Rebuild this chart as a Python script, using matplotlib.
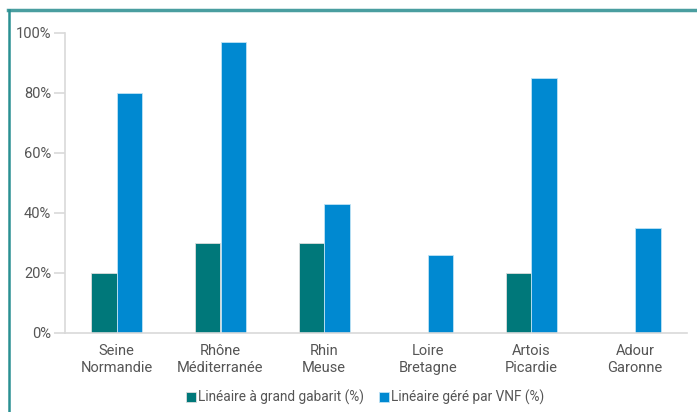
import numpy as np
import matplotlib.pyplot as plt
from matplotlib.lines import Line2D

plt.rcParams['font.family'] = ['Roboto', 'DejaVu Sans']

bassins = ['Seine\nNormandie', 'Rhône\nMéditerranée', 'Rhin\nMeuse',
           'Loire\nBretagne', 'Artois\nPicardie', 'Adour\nGaronne']
grand_gabarit = [20, 30, 30, 0, 20, 0]
gere_vnf = [80, 97, 43, 26, 85, 35]
yticks = [0, 20, 40, 60, 80, 100]

green = '#00787a'
blue = '#0089d1'
txt = '#555555'
grid = '#d9d9d9'

fig = plt.figure(figsize=(6.97, 4.12), dpi=100)
ax = fig.add_axes([65 / 697, 1 - 333 / 412, 622 / 697, 300 / 412])

x = np.arange(len(bassins))
w = 0.245
ax.bar(x - w / 2, grand_gabarit, w, color=green, edgecolor='#dddddd', linewidth=0.6,
       label='Linéaire à grand gabarit (%)')
ax.bar(x + w / 2, gere_vnf, w, color=blue, edgecolor='#bfe3f5', linewidth=0.6,
       label='Linéaire géré par VNF (%)')

ax.set_xlim(-0.5, len(bassins) - 0.5)
ax.set_ylim(0, 100)
ax.set_yticks(yticks)
ax.set_yticklabels([f'{v}%' for v in yticks])
ax.set_xticks(x)
ax.set_xticklabels(bassins, linespacing=1.25)

for s in ['top', 'right']:
    ax.spines[s].set_visible(False)
ax.spines['left'].set_color(grid)
ax.spines['bottom'].set_color(grid)
ax.spines['left'].set_linewidth(1.2)
ax.spines['bottom'].set_linewidth(1.2)
ax.tick_params(axis='y', colors=grid, labelcolor=txt, labelsize=10.5, length=8, width=1.2, pad=2)
ax.tick_params(axis='x', length=0, labelcolor=txt, labelsize=10.5, pad=8)

leg = fig.legend(loc='center', bbox_to_anchor=(365 / 697, 1 - 397 / 412), ncol=2,
                 frameon=False, fontsize=9.8, handlelength=0.75, handleheight=0.75,
                 handletextpad=0.15, columnspacing=1.1, labelcolor=txt)

# cadre teal en haut et a gauche
fig.add_artist(Line2D([8 / 697, 1], [1 - 9.5 / 412] * 2, color='#4a9ea0', lw=2.5,
                      transform=fig.transFigure))
fig.add_artist(Line2D([8.5 / 697] * 2, [0, 1 - 9.5 / 412], color='#2a9092', lw=1.8,
                      transform=fig.transFigure))

fig.savefig('out.png', dpi=100)
